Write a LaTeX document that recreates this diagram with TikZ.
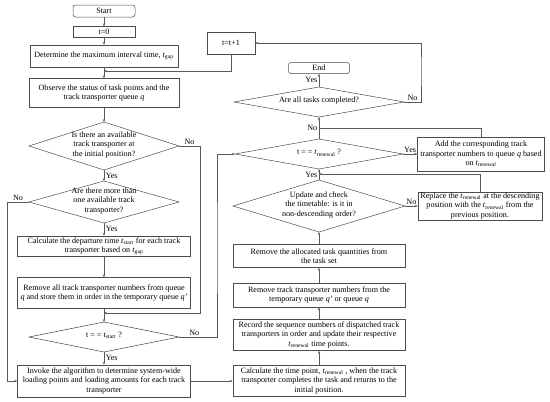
\documentclass[tikz,border=0pt]{standalone}
\usepackage{fontspec}
\setmainfont{Liberation Serif}
\usetikzlibrary{arrows.meta,shapes.geometric}
\newcommand{\tgap}{\textit{t}\textsubscript{gap}}
\newcommand{\tstr}{\textit{t}\textsubscript{start}}
\newcommand{\tren}{\textit{t}\textsubscript{renewal}}
% text of a decision, kept out of the diamond size
\newcommand{\dtext}[1]{\raisebox{-2pt}{\smash{\makebox[0pt]{\begin{tabular}{@{}c@{}}#1\end{tabular}}}}}
\begin{document}
\begin{tikzpicture}[x=1pt,y=-1pt,font=\fontsize{8.1}{9.4}\selectfont,
  line/.style={draw=black!65,line width=0.5pt},
  arr/.style={line,-{Stealth[length=3pt,width=2.4pt]}},
  box/.style={draw=black!70,line width=0.5pt,align=center,inner sep=1pt},
  term/.style={box,rounded corners=2.5pt},
  decision/.style={diamond,draw=black!70,line width=0.5pt,inner sep=0pt,outer sep=0pt},
  lbl/.style={inner sep=1.5pt}]
\useasboundingbox (0,0) rectangle (550,402);
% Left column
\node[term,minimum width=62pt,minimum height=12pt] (start) at (104,11) {Start};
\node[box,minimum width=62pt,minimum height=11pt] (t0) at (104,32) {t=0};
\node[box,minimum width=148pt,minimum height=22pt] (det) at (104,56) {Determine the maximum interval time, \tgap};
\node[box,minimum width=150pt,minimum height=29pt] (obs) at (104,93) {Observe the status of task points and the\\track transporter queue \textit{q}};
\node[decision,minimum width=150pt,minimum height=48pt] (d1) at (104,146) {\dtext{Is there an available\\track transporter at\\the initial position?}};
\node[decision,minimum width=150pt,minimum height=42pt] (d2) at (104,202) {\dtext{Are there more than\\one available track\\transporter?}};
\node[box,minimum width=173pt,minimum height=20pt] (calc) at (104,246) {Calculate the departure time \tstr{} for each track\\transporter based on \tgap};
\node[box,minimum width=173pt,minimum height=31pt] (rem) at (104,293) {Remove all track transporter numbers from queue\\\textit{q} and store them in order in the temporary queue \textit{q'}};
\node[decision,minimum width=150pt,minimum height=30pt] (d3) at (104,337) {\dtext{t = = \tstr{} ?}};
\node[box,minimum width=173pt,minimum height=32pt] (inv) at (104,381) {Invoke the algorithm to determine system-wide\\loading points and loading amounts for each track\\transporter};
% Right column
\node[box,minimum width=48pt,minimum height=22pt] (tt) at (231,43) {t=t+1};
\node[term,minimum width=61pt,minimum height=11pt] (endb) at (319,68) {End};
\node[decision,minimum width=170pt,minimum height=30pt] (all) at (319,102) {\dtext{Are all tasks completed?}};
\node[decision,minimum width=168pt,minimum height=30pt] (tr) at (319,154) {\dtext{t = = \tren{} ?}};
\node[box,minimum width=127pt,minimum height=34pt] (add) at (481,154) {Add the corresponding track\\transporter numbers to queue \textit{q} based\\on \tren};
\node[decision,minimum width=172pt,minimum height=52pt] (upd) at (319,206) {\dtext{Update and check\\the timetable: is it in\\non-descending order?}};
\node[box,minimum width=124pt,minimum height=28pt] (rep) at (480,206) {Replace the \tren{} at the descending\\position with the \tren{} from the\\previous position.};
\node[box,minimum width=172pt,minimum height=23pt] (remA) at (319,256) {Remove the allocated task quantities from\\the task set};
\node[box,minimum width=172pt,minimum height=24pt] (remT) at (319,295) {Remove track transporter numbers from the\\temporary queue \textit{q'} or queue \textit{q}};
\node[box,minimum width=172pt,minimum height=31pt] (rec) at (319,335) {Record the sequence numbers of dispatched track\\transporters in order and update their respective\\\tren{} time points.};
\node[box,minimum width=172pt,minimum height=31pt] (calcT) at (319,381) {Calculate the time point, \tren{} , when the track\\transporter completes the task and returns to the\\initial position.};
% Junctions and bends
\coordinate (j1) at (104,313);
\coordinate (j2) at (104,71);
\coordinate (j3) at (319,128);
\coordinate (j4) at (319,174);
\coordinate (c1) at (200,313);
\coordinate (c2) at (7,381);
\coordinate (c3) at (217,250);
\coordinate (c5) at (421,70);
% Connectors, left
\draw[arr] (start) -- (t0);
\draw[arr] (t0) -- (det);
\draw[arr] (det) -- (obs);
\draw[arr] (obs) -- (d1);
\draw[arr] (d1) -- node[lbl,right]{Yes} (d2);
\draw[arr] (d2) -- node[lbl,right]{Yes} (calc);
\draw[arr] (calc) -- (rem);
\draw[arr] (rem) -- (d3);
\draw[arr] (d3) -- node[lbl,right]{Yes} (inv);
\draw[arr] (d1.east) -| node[lbl,pos=0.25,above]{No} (c1) -- (j1);
\draw[arr] (d2.west) -| node[lbl,pos=0.25,above]{No} (c2) -- (inv.west);
\draw[arr] (d3.east) -| node[lbl,pos=0.2,above]{No} (c3) |- (tr.west);
\draw[arr] (inv) -- (calcT);
% Connectors, right
\draw[arr] (calcT) -- (rec);
\draw[arr] (rec) -- (remT);
\draw[arr] (remT) -- (remA);
\draw[arr] (remA) -- (upd);
\draw[arr] (upd) -- node[lbl,left]{Yes} (tr);
\draw[arr] (upd.east) -- node[lbl,above]{No} (rep.west);
\draw[arr] (rep.north) |- (j4);
\draw[arr] (tr.east) -- node[lbl,above]{Yes} (add.west);
\draw[arr] (tr) -- node[lbl,left]{No} (all);
\draw[line] (add.north) |- (j3);
\draw[arr] (all) -- node[lbl,left]{Yes} (endb);
\draw[arr] (all.east) -| node[lbl,pos=0.25,above]{No} (c5) |- (tt.east);
\draw[arr] (tt.south) |- (j2);
\end{tikzpicture}
\end{document}
